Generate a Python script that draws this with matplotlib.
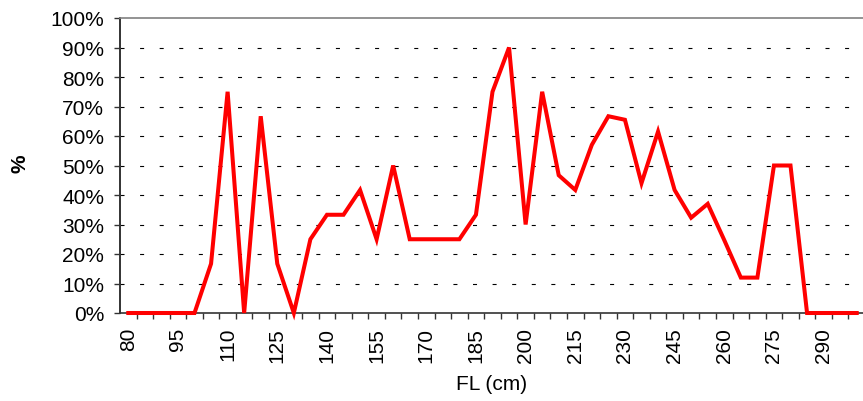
import matplotlib
matplotlib.use("Agg")
import matplotlib.pyplot as plt
import numpy as np

fl_cm = list(range(80, 305, 5))
pct = [0, 0, 0, 0, 0, 16.7, 75, 0, 66.7, 16.7,
       0, 25, 33.3, 33.3, 41.7, 25, 50, 25, 25, 25,
       25, 33.3, 75, 90, 30, 75, 46.7, 41.7, 57, 66.7,
       65.5, 44, 61.5, 41.7, 32.3, 37, 24.7, 12, 12, 50,
       50, 0, 0, 0, 0]
xtick_labels = list(range(80, 291, 15))
yticks = list(range(0, 101, 10))

plt.rcParams['font.family'] = ['Liberation Sans', 'DejaVu Sans']
W, H = 863, 402
fig = plt.figure(figsize=(W / 100, H / 100), dpi=100)
left, right, top, bottom = 120, 865, 19, 314
ax = fig.add_axes([left / W, 1 - bottom / H, (right - left) / W, (bottom - top) / H])

ax.plot(fl_cm, pct, color='#ff0000', lw=2.9, solid_joinstyle='miter', clip_on=False, zorder=3)

ax.set_xlim(77.5, 302.5)
ax.set_ylim(0, 100)

ax.set_yticks(yticks)
ax.set_yticklabels([f"{v}%" for v in yticks], fontsize=15)
ax.set_xticks(xtick_labels)
ax.set_xticklabels([str(v) for v in xtick_labels], rotation=90, fontsize=15)
ax.set_xticks(np.arange(82.5, 302.5, 5), minor=True)
ax.tick_params(axis='x', which='major', length=0, pad=10)
ax.tick_params(axis='x', which='minor', length=4.5, width=1, color='#333333', direction='out')
ax.tick_params(axis='y', which='major', length=4.5, width=1, color='#333333', direction='out', pad=7)

grid_lw = 0.8
for y in yticks[1:-1]:
    ax.axhline(y, color='black', lw=grid_lw, ls=(0, (2.9 / grid_lw, 11.2 / grid_lw)), zorder=1)

ax.spines['right'].set_visible(False)
ax.spines['top'].set_color('#808080')
ax.spines['top'].set_linewidth(1.2)
ax.spines['left'].set_color('#333333')
ax.spines['left'].set_linewidth(1.4)
ax.spines['bottom'].set_color('#333333')
ax.spines['bottom'].set_linewidth(1.2)

fig.text(492 / W, 1 - 385 / H, 'FL (cm)', ha='center', va='center', fontsize=15)
fig.text(20 / W, 1 - 164 / H, '%', ha='center', va='center', fontsize=15, fontweight='bold', rotation=90)

fig.savefig('out.png', dpi=100)
